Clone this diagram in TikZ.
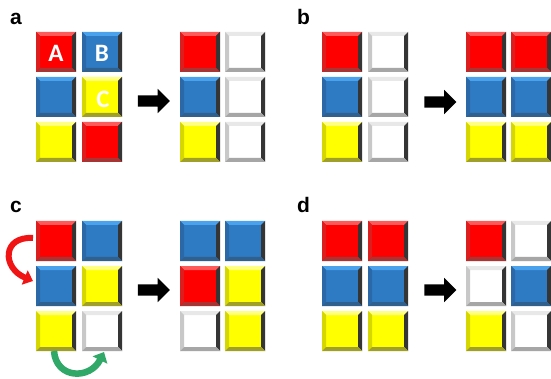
\documentclass[tikz,border=0pt]{standalone}
\usepackage{fontspec}
\setmainfont{Liberation Sans}
\newfontfamily\calfont{Carlito}
\usetikzlibrary{shapes.arrows,arrows.meta}
\definecolor{tR}{HTML}{FF0000}
\definecolor{tRt}{HTML}{FF5A5A}
\definecolor{tRl}{HTML}{DC1E1E}
\definecolor{tRb}{HTML}{A83434}
\definecolor{tB}{HTML}{2E7BC4}
\definecolor{tBt}{HTML}{4AA2EC}
\definecolor{tBl}{HTML}{2A68A8}
\definecolor{tBb}{HTML}{30608E}
\definecolor{tY}{HTML}{FFFF00}
\definecolor{tYt}{HTML}{FFFF80}
\definecolor{tYl}{HTML}{D6D600}
\definecolor{tYb}{HTML}{A0A028}
\definecolor{tW}{HTML}{FFFFFF}
\definecolor{tWt}{HTML}{E8E8E8}
\definecolor{tWl}{HTML}{C8C8C8}
\definecolor{tWb}{HTML}{A6A6A6}
\definecolor{tDk}{HTML}{353535}
\definecolor{arrRed}{HTML}{F01414}
\definecolor{arrGreen}{HTML}{2FA868}
\tikzset{
  tile/.style n args={4}{minimum width=40pt, minimum height=40pt, inner sep=0pt, outer sep=0pt, fill=#1,
    path picture={
      \fill[#2] (path picture bounding box.north west) -- (path picture bounding box.north east)
        -- ([shift={(-4pt,-4pt)}]path picture bounding box.north east)
        -- ([shift={(4pt,-4pt)}]path picture bounding box.north west) -- cycle;
      \fill[#3] (path picture bounding box.north west) -- ([shift={(4pt,-4pt)}]path picture bounding box.north west)
        -- ([shift={(4pt,4pt)}]path picture bounding box.south west)
        -- (path picture bounding box.south west) -- cycle;
      \fill[tDk] (path picture bounding box.north east) -- ([shift={(-4pt,-4pt)}]path picture bounding box.north east)
        -- ([shift={(-4pt,4pt)}]path picture bounding box.south east)
        -- (path picture bounding box.south east) -- cycle;
      \fill[#4] (path picture bounding box.south west) -- ([shift={(4pt,4pt)}]path picture bounding box.south west)
        -- ([shift={(-4pt,4pt)}]path picture bounding box.south east)
        -- (path picture bounding box.south east) -- cycle;
    }},
  R/.style={tile={tR}{tRt}{tRl}{tRb}},
  B/.style={tile={tB}{tBt}{tBl}{tBb}},
  Y/.style={tile={tY}{tYt}{tYl}{tYb}},
  W/.style={tile={tW}{tWt}{tWl}{tWb}},
  plabel/.style={anchor=base west, inner sep=0pt, font=\fontsize{21}{21}\selectfont\bfseries},
  letter/.style={inner sep=0pt, text=white, font=\calfont\fontsize{25}{25}\selectfont\bfseries},
  blkarrow/.style={single arrow, fill=black, draw=none, inner xsep=0pt, inner ysep=5.5pt,
    single arrow head extend=6.5pt, minimum height=32pt, single arrow head indent=0pt},
  redarr/.style={draw=arrRed, line width=6pt, -{Triangle[width=15pt,length=9pt]}},
  greenarr/.style={draw=arrGreen, line width=6.5pt, -{Triangle[width=16pt,length=9pt]}}
}
\begin{document}
\begin{tikzpicture}[x=1pt,y=-1pt]
\useasboundingbox[fill=white] (0,0) rectangle (551,379);
% labels
\node[plabel] (la) at (10,25) {a};
\node[plabel] (lb) at (297,25) {b};
\node[plabel] (lc) at (10,213) {c};
\node[plabel] (ld) at (297,213) {d};
% panel a
\node[R] (a11) at (56,52) {};
\node[B] (a12) at (102,52) {};
\node[B] (a21) at (56,97) {};
\node[Y] (a22) at (102,97) {};
\node[Y] (a31) at (56,142) {};
\node[R] (a32) at (102,142) {};
\node[letter] (tA) at (56,53) {A};
\node[letter] (tB) at (102,53) {B};
\node[letter] (tC) at (103,99) {C};
\node[blkarrow] (arra) at (151,101) {};
\node[R] (ar11) at (200,52) {};
\node[W] (ar12) at (245,52) {};
\node[B] (ar21) at (200,97) {};
\node[W] (ar22) at (245,97) {};
\node[Y] (ar31) at (200,142) {};
\node[W] (ar32) at (245,142) {};
% panel b
\node[R] (b11) at (342,52) {};
\node[W] (b12) at (388,52) {};
\node[B] (b21) at (342,97) {};
\node[W] (b22) at (388,97) {};
\node[Y] (b31) at (342,142) {};
\node[W] (b32) at (388,142) {};
\node[blkarrow] (arrb) at (437.5,102) {};
\node[R] (br11) at (486,52) {};
\node[R] (br12) at (531,52) {};
\node[B] (br21) at (486,97) {};
\node[B] (br22) at (531,97) {};
\node[Y] (br31) at (486,142) {};
\node[Y] (br32) at (531,142) {};
% panel c
\node[R] (c11) at (56,241) {};
\node[B] (c12) at (102,241) {};
\node[B] (c21) at (56,286) {};
\node[Y] (c22) at (102,286) {};
\node[Y] (c31) at (56,331) {};
\node[W] (c32) at (102,331) {};
\node[blkarrow] (arrc) at (151,290) {};
\node[B] (cr11) at (200,241) {};
\node[B] (cr12) at (245,241) {};
\node[R] (cr21) at (200,286) {};
\node[Y] (cr22) at (245,286) {};
\node[W] (cr31) at (200,331) {};
\node[Y] (cr32) at (245,331) {};
\draw[redarr] ([shift={(-3pt,3pt)}]c11.west) .. controls (2,236) and (2,268) .. ([shift={(-3pt,5pt)}]c21.west);
\draw[greenarr] ([xshift=-2pt]c31.south) .. controls (56,379) and (90,380) .. ([shift={(2pt,-1pt)}]c32.south);
% panel d
\node[R] (d11) at (342,241) {};
\node[R] (d12) at (388,241) {};
\node[B] (d21) at (342,286) {};
\node[B] (d22) at (388,286) {};
\node[Y] (d31) at (342,331) {};
\node[Y] (d32) at (388,331) {};
\node[blkarrow] (arrd) at (437.5,290) {};
\node[R] (dr11) at (486,241) {};
\node[W] (dr12) at (531,241) {};
\node[W] (dr21) at (486,286) {};
\node[B] (dr22) at (531,286) {};
\node[Y] (dr31) at (486,331) {};
\node[W] (dr32) at (531,331) {};
\end{tikzpicture}
\end{document}
